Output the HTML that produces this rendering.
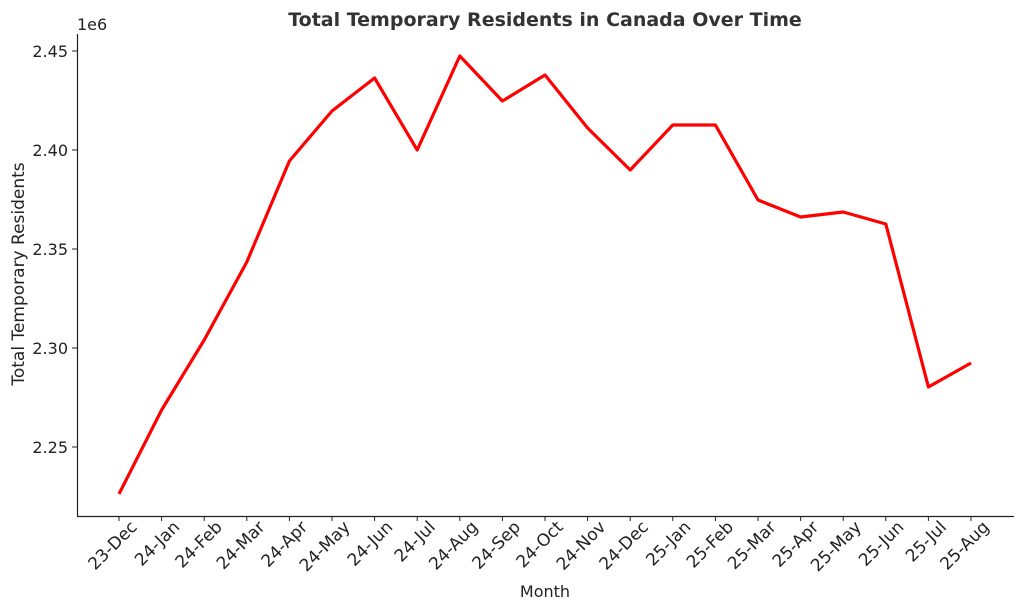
<!DOCTYPE html>
<html><head><meta charset="utf-8"><style>
body{margin:0;background:#fff;}
svg text{font-family:"DejaVu Sans","Liberation Sans",sans-serif;fill:#222;}
</style></head><body>
<svg width="1024" height="611" xmlns="http://www.w3.org/2000/svg">
<rect width="1024" height="611" fill="#fff"/>
<text x="545" y="26" text-anchor="middle" font-size="19" font-weight="bold" style="fill:#333">Total Temporary Residents in Canada Over Time</text>
<text x="77" y="30" font-size="16">1e6</text>
<line x1="77.5" y1="34" x2="77.5" y2="516" stroke="#222" stroke-width="1.2"/>
<line x1="77" y1="516.5" x2="1014" y2="516.5" stroke="#222" stroke-width="1.2"/>
<g font-size="16" text-anchor="end">
<line x1="72" y1="51" x2="77" y2="51" stroke="#222"/><text x="68" y="57">2.45</text>
<line x1="72" y1="150" x2="77" y2="150" stroke="#222"/><text x="68" y="156">2.40</text>
<line x1="72" y1="249" x2="77" y2="249" stroke="#222"/><text x="68" y="255">2.35</text>
<line x1="72" y1="348" x2="77" y2="348" stroke="#222"/><text x="68" y="354">2.30</text>
<line x1="72" y1="447" x2="77" y2="447" stroke="#222"/><text x="68" y="453">2.25</text>
</g>
<text transform="translate(24,274) rotate(-90)" text-anchor="middle" font-size="17">Total Temporary Residents</text>
<text x="545" y="597" text-anchor="middle" font-size="16">Month</text>
<g stroke="#222">
<line x1="119" y1="516" x2="119" y2="521"/><line x1="161.6" y1="516" x2="161.6" y2="521"/><line x1="204.2" y1="516" x2="204.2" y2="521"/><line x1="246.8" y1="516" x2="246.8" y2="521"/><line x1="289.4" y1="516" x2="289.4" y2="521"/><line x1="332" y1="516" x2="332" y2="521"/><line x1="374.6" y1="516" x2="374.6" y2="521"/><line x1="417.2" y1="516" x2="417.2" y2="521"/><line x1="459.8" y1="516" x2="459.8" y2="521"/><line x1="502.4" y1="516" x2="502.4" y2="521"/><line x1="545" y1="516" x2="545" y2="521"/><line x1="587.6" y1="516" x2="587.6" y2="521"/><line x1="630.2" y1="516" x2="630.2" y2="521"/><line x1="672.8" y1="516" x2="672.8" y2="521"/><line x1="715.4" y1="516" x2="715.4" y2="521"/><line x1="758" y1="516" x2="758" y2="521"/><line x1="800.6" y1="516" x2="800.6" y2="521"/><line x1="843.2" y1="516" x2="843.2" y2="521"/><line x1="885.8" y1="516" x2="885.8" y2="521"/><line x1="928.4" y1="516" x2="928.4" y2="521"/><line x1="971" y1="516" x2="971" y2="521"/>
</g>
<g font-size="17" text-anchor="end">
<text transform="translate(138,528) rotate(-45)">23-Dec</text>
<text transform="translate(180.6,528) rotate(-45)">24-Jan</text>
<text transform="translate(223.2,528) rotate(-45)">24-Feb</text>
<text transform="translate(265.8,528) rotate(-45)">24-Mar</text>
<text transform="translate(308.4,528) rotate(-45)">24-Apr</text>
<text transform="translate(351,528) rotate(-45)">24-May</text>
<text transform="translate(393.6,528) rotate(-45)">24-Jun</text>
<text transform="translate(436.2,528) rotate(-45)">24-Jul</text>
<text transform="translate(478.8,528) rotate(-45)">24-Aug</text>
<text transform="translate(521.4,528) rotate(-45)">24-Sep</text>
<text transform="translate(564,528) rotate(-45)">24-Oct</text>
<text transform="translate(606.6,528) rotate(-45)">24-Nov</text>
<text transform="translate(649.2,528) rotate(-45)">24-Dec</text>
<text transform="translate(691.8,528) rotate(-45)">25-Jan</text>
<text transform="translate(734.4,528) rotate(-45)">25-Feb</text>
<text transform="translate(777,528) rotate(-45)">25-Mar</text>
<text transform="translate(819.6,528) rotate(-45)">25-Apr</text>
<text transform="translate(862.2,528) rotate(-45)">25-May</text>
<text transform="translate(904.8,528) rotate(-45)">25-Jun</text>
<text transform="translate(947.4,528) rotate(-45)">25-Jul</text>
<text transform="translate(990,528) rotate(-45)">25-Aug</text>
</g>
<polyline fill="none" stroke="#ff0000" stroke-width="3.2" stroke-linejoin="round" points="119,494 161.6,410 204.2,340 246.8,262 289.4,161 332,111 374.6,78 417.2,150 459.8,56 502.4,101 545,75 587.6,128 630.2,170 672.8,125 715.4,125 758,200 800.6,217 843.2,212 885.8,224 928.4,387 971,363"/>
</svg>
</body></html>
